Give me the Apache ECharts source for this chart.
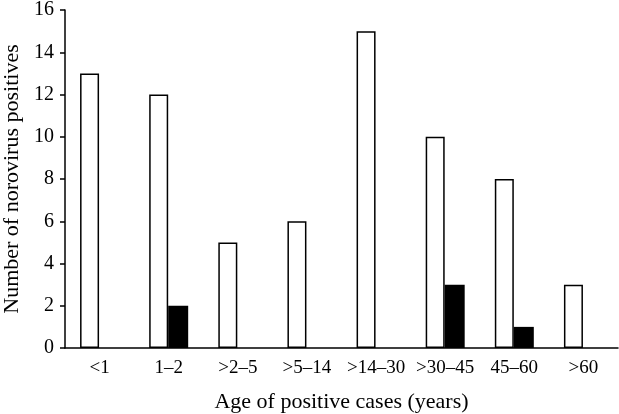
<!DOCTYPE html>
<html><head><meta charset="utf-8">
<script src="https://cdn.jsdelivr.net/npm/echarts@6/dist/echarts.min.js"></script>
<style>html,body{margin:0;padding:0;background:#fff}#c{width:619px;height:414px}</style>
</head><body><div id="c"></div>
<script>
const categories = ['<1', '1–2', '>2–5', '>5–14', '>14–30', '>30–45', '45–60', '>60'];
const whiteValues = [13, 12, 5, 6, 15, 10, 8, 3];
const blackValues = [0, 2, 0, 0, 0, 3, 1, 0];
const yTicks = {min: 0, max: 16, interval: 2};

const chart = echarts.init(document.getElementById('c'));
const font = 'Liberation Serif';
chart.setOption({
  animation: false,
  backgroundColor: '#fff',
  grid: {left: 65, right: 1, top: 10, bottom: 66, containLabel: false, outerBoundsMode: 'none'},
  xAxis: {
    type: 'category', data: categories,
    name: 'Age of positive cases (years)', nameLocation: 'middle', nameGap: 43,
    nameTextStyle: {fontFamily: font, fontSize: 22, color: '#000'},
    axisLine: {lineStyle: {color: '#000', width: 1.5}},
    axisTick: {lineStyle: {color: '#000', width: 1.5}, length: 5},
    axisLabel: {fontFamily: font, fontSize: 19, color: '#000', margin: 11, interval: 0, hideOverlap: false}
  },
  yAxis: {
    type: 'value', min: yTicks.min, max: yTicks.max, interval: yTicks.interval,
    name: 'Number of norovirus positives', nameLocation: 'middle', nameGap: 40,
    nameTextStyle: {fontFamily: font, fontSize: 22, color: '#000'},
    axisLine: {show: true, lineStyle: {color: '#000', width: 1.5}},
    axisTick: {show: true, lineStyle: {color: '#000', width: 1.5}, length: 5},
    axisLabel: {fontFamily: font, fontSize: 20, color: '#000', margin: 11},
    splitLine: {show: false}
  },
  series: [
    {type: 'bar', data: whiteValues, barWidth: 19, barGap: '0%',
     itemStyle: {color: '#fff', borderColor: '#000', borderWidth: 1.5}},
    {type: 'bar', data: blackValues.map(v => v === 0 ? null : v), barWidth: 20,
     itemStyle: {color: '#000'}}
  ]
});
</script></body></html>
